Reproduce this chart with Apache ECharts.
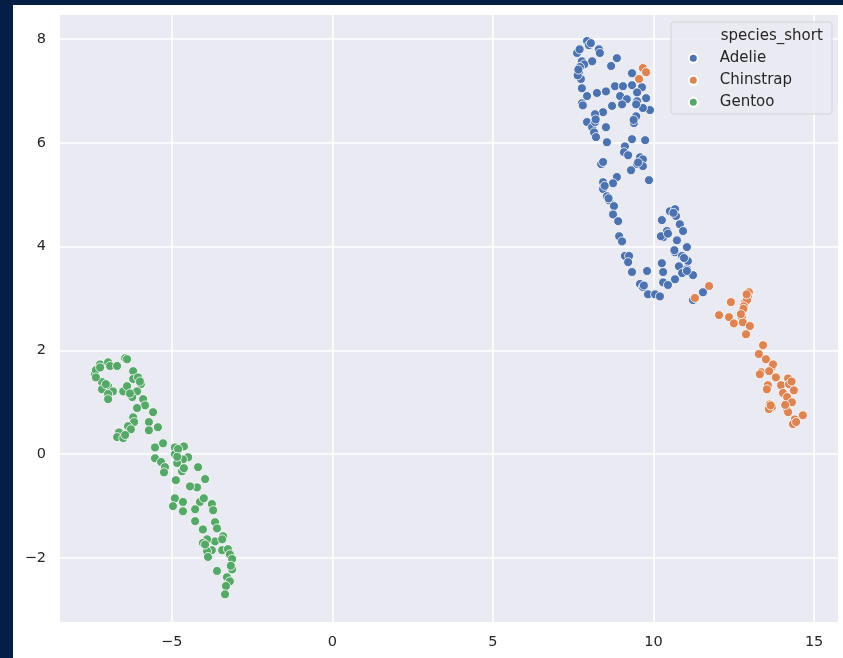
<!DOCTYPE html>
<html>
<head>
<meta charset="utf-8">
<script src="https://cdn.jsdelivr.net/npm/echarts@6/dist/echarts.min.js"></script>
<style>
  html, body { margin: 0; padding: 0; background: #ffffff; }
  #frame { position: absolute; left: 0; top: 0; width: 843px; height: 658px; background: #ffffff; }
  #edgeTop { position: absolute; left: 0; top: 0; width: 843px; height: 5px; background: #051e46; }
  #edgeLeft { position: absolute; left: 0; top: 0; width: 13px; height: 658px; background: #051e46; }
  #chart { position: absolute; left: 0; top: 0; width: 843px; height: 658px; }
</style>
</head>
<body>
<div id="frame"></div>
<div id="chart"></div>
<div id="edgeTop"></div>
<div id="edgeLeft"></div>
<script>
// Embedding coordinates per species
const species = ['Adelie', 'Chinstrap', 'Gentoo'];
const legendTitle = 'species_short';

const adelie = [
  [7.93,7.96],[7.99,7.88],[7.65,7.76],[7.62,7.73],[8.30,7.80],[8.33,7.73],[7.77,7.57],[8.09,7.57],
  [7.84,7.51],[8.68,7.48],[8.86,7.63],[7.71,7.46],[7.68,7.36],[7.74,7.23],[7.77,7.05],[9.33,7.34],
  [7.93,6.90],[8.24,6.96],[8.52,6.99],[8.80,7.09],[9.05,7.09],[9.33,7.11],[9.64,7.07],[9.49,6.97],
  [8.96,6.90],[9.17,6.84],[9.49,6.80],[9.02,6.74],[8.71,6.71],[8.43,6.59],[8.18,6.55],[7.77,6.76],
  [9.77,6.86],[9.89,6.63],[9.67,6.67],[9.46,6.74],[7.93,6.40],[8.09,6.30],[8.18,6.40],[8.15,6.20],
  [8.52,6.30],[8.21,6.11],[8.55,6.01],[9.33,6.07],[9.74,6.05],[9.39,6.38],[9.46,6.51],[9.11,5.93],
  [9.08,5.82],[9.21,5.76],[9.58,5.72],[9.67,5.68],[9.49,5.59],[9.67,5.55],[9.30,5.47],[8.86,5.34],
  [8.74,5.22],[8.43,5.24],[8.37,5.59],[8.43,5.63],[8.43,5.11],[8.55,4.97],[8.62,4.89],[8.77,4.78],
  [8.74,4.62],[8.90,4.49],[9.86,5.28],[8.93,4.20],[9.02,4.10],[10.51,4.68],[10.67,4.72],[10.70,4.59],
  [10.26,4.51],[10.82,4.43],[10.42,4.30],[10.92,4.30],[10.30,4.18],[10.73,4.12],[10.23,4.20],[11.04,3.99],
  [10.67,3.89],[10.89,3.82],[11.07,3.72],[10.79,3.62],[11.04,3.56],[11.23,3.45],[10.26,3.68],[9.11,3.82],
  [9.24,3.82],[9.21,3.70],[9.33,3.51],[9.80,3.53],[9.58,3.28],[9.67,3.22],[9.83,3.08],[10.05,3.08],
  [10.20,3.04],[10.30,3.31],[10.45,3.26],[10.67,3.37],[10.30,3.51],[11.54,3.12],[10.89,3.49],[11.04,3.53],
  [11.23,2.97],[7.64,7.30],[7.70,7.80],[8.05,7.92],[7.66,7.41],[8.20,6.45],[8.48,5.17],[8.60,4.93],
  [9.52,5.62],[9.38,6.44],[10.65,3.93],[10.95,3.78],[10.45,4.25],[9.70,3.25],[10.62,4.65],[7.80,6.72]
];

const chinstrap = [
  [9.67,7.44],[9.77,7.36],[9.55,7.23],[11.73,3.24],[11.29,3.01],[12.97,3.12],[12.94,3.04],[12.41,2.93],
  [12.85,2.93],[12.91,2.97],[12.81,2.85],[12.04,2.68],[12.35,2.64],[12.75,2.74],[12.75,2.64],[12.78,2.54],
  [12.50,2.52],[13.00,2.47],[12.88,2.31],[13.41,2.10],[13.28,1.93],[13.50,1.83],[13.69,1.68],[13.72,1.73],
  [13.35,1.58],[13.31,1.54],[13.81,1.48],[13.56,1.33],[13.53,1.25],[13.97,1.33],[14.19,1.46],[14.22,1.35],
  [14.37,1.23],[14.03,1.18],[14.16,1.10],[14.31,1.00],[13.62,0.96],[13.69,0.91],[13.59,0.87],[14.16,0.85],
  [14.19,0.81],[14.65,0.75],[14.40,0.67],[14.34,0.58],[14.44,0.62],[12.90,3.08],[12.80,2.80],[12.72,2.70],
  [13.60,1.60],[13.65,0.94],[14.10,0.95],[14.30,1.40]
];

const gentoo = [
  [-6.45,1.85],[-7.23,1.73],[-6.98,1.77],[-6.92,1.70],[-6.70,1.70],[-7.39,1.54],[-7.36,1.62],[-6.20,1.60],
  [-6.20,1.45],[-6.05,1.48],[-5.96,1.35],[-7.17,1.39],[-6.98,1.31],[-7.17,1.25],[-6.83,1.21],[-6.98,1.16],
  [-6.98,1.06],[-6.51,1.21],[-6.39,1.31],[-6.08,1.21],[-6.23,1.10],[-5.89,1.06],[-5.83,0.94],[-6.08,0.89],
  [-5.58,0.81],[-6.20,0.71],[-6.17,0.62],[-6.36,0.54],[-6.27,0.48],[-5.71,0.62],[-5.43,0.52],[-5.71,0.46],
  [-6.64,0.42],[-6.70,0.33],[-6.51,0.31],[-6.45,0.37],[-5.52,0.13],[-5.27,0.21],[-4.90,0.13],[-4.62,0.15],
  [-4.90,0.00],[-4.49,-0.06],[-4.65,-0.10],[-5.52,-0.08],[-5.33,-0.15],[-5.21,-0.25],[-5.24,-0.35],[-4.83,-0.17],
  [-4.68,-0.33],[-4.62,-0.27],[-4.18,-0.25],[-3.96,-0.48],[-4.21,-0.64],[-4.43,-0.62],[-4.87,-0.50],[-4.90,-0.85],
  [-4.65,-0.92],[-4.96,-1.00],[-4.65,-1.10],[-4.12,-0.92],[-4.00,-0.85],[-4.27,-1.06],[-3.75,-0.96],[-3.71,-1.08],
  [-4.27,-1.29],[-3.65,-1.31],[-3.59,-1.43],[-4.03,-1.45],[-3.40,-1.58],[-3.65,-1.68],[-3.90,-1.64],[-4.03,-1.71],
  [-3.43,-1.64],[-3.75,-1.85],[-3.90,-1.87],[-3.43,-1.85],[-3.25,-1.83],[-3.19,-1.93],[-3.87,-1.98],[-3.12,-2.02],
  [-3.59,-2.25],[-3.12,-2.22],[-3.28,-2.37],[-3.19,-2.45],[-3.31,-2.54],[-3.34,-2.70],[-7.36,1.48],[-6.39,1.83],
  [-7.23,1.67],[-3.96,-1.74],[-3.16,-2.15],[-4.80,0.10],[-4.83,-0.05],[-5.99,1.40],[-7.05,1.35],[-6.30,1.17]
];

const xTicks = [-5, 0, 5, 10, 15];
const yTicks = [-2, 0, 2, 4, 6, 8];

const colors = ['#4C72B0', '#DD8452', '#55A868'];
const fontFamily = 'DejaVu Sans';
const textColor = '#262626';
const fmt = v => String(v).replace('-', '\u2212');

const chart = echarts.init(document.getElementById('chart'), null, { renderer: 'canvas' });

function scatter(name, data, color) {
  return {
    name: name,
    type: 'scatter',
    data: data,
    symbol: 'circle',
    symbolSize: 9,
    itemStyle: { color: color, borderColor: '#ffffff', borderWidth: 0.8, opacity: 1 },
    emphasis: { disabled: true },
    z: 3
  };
}

chart.setOption({
  animation: false,
  backgroundColor: 'transparent',
  grid: {
    left: 60, top: 15, right: 5, bottom: 36,
    show: true, backgroundColor: '#EAEAF2', borderWidth: 0, containLabel: false
  },
  xAxis: {
    type: 'value',
    min: -8.478, max: 15.744,
    axisLine: { show: false },
    axisTick: { show: false, customValues: xTicks },
    axisLabel: {
      customValues: xTicks, formatter: fmt, margin: 13,
      fontFamily: fontFamily, fontSize: 14.5, color: textColor
    },
    splitLine: { show: true, lineStyle: { color: '#ffffff', width: 1.5 } }
  },
  yAxis: {
    type: 'value',
    min: -3.233, max: 8.462,
    axisLine: { show: false },
    axisTick: { show: false, customValues: yTicks },
    axisLabel: {
      customValues: yTicks, formatter: fmt, margin: 14,
      fontFamily: fontFamily, fontSize: 14.5, color: textColor
    },
    splitLine: { show: true, lineStyle: { color: '#ffffff', width: 1.5 } }
  },
  graphic: [{
    type: 'rect',
    z: 50,
    shape: { x: 671, y: 22, width: 161, height: 92, r: 3 },
    style: { fill: 'rgba(234,234,242,0.8)', stroke: '#d2d2d9', lineWidth: 1 }
  }],
  title: {
    text: legendTitle,
    left: 720.7, top: 29, padding: 0, z: 60,
    textStyle: { fontFamily: fontFamily, fontSize: 15, fontWeight: 'normal', color: textColor, lineHeight: 15 }
  },
  legend: {
    data: species,
    orient: 'vertical',
    left: 687.8, top: 50.8, padding: 0, z: 60,
    icon: 'circle', itemWidth: 9, itemHeight: 9, itemGap: 7,
    textStyle: { fontFamily: fontFamily, fontSize: 15, color: textColor, lineHeight: 15, padding: [0, 0, 0, 17] },
    selectedMode: false
  },
  series: [
    scatter(species[0], adelie, colors[0]),
    scatter(species[1], chinstrap, colors[1]),
    scatter(species[2], gentoo, colors[2])
  ]
});
</script>
</body>
</html>
